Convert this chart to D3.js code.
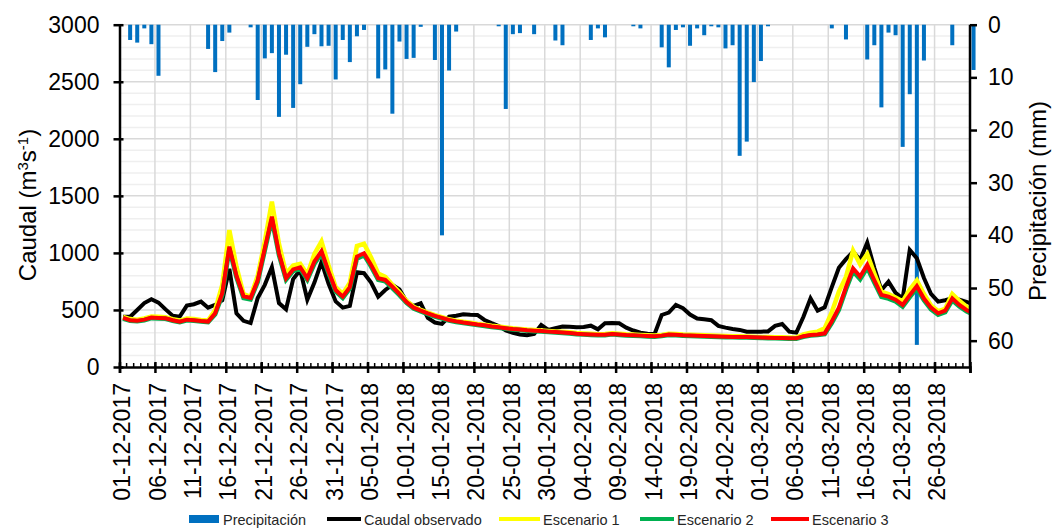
<!DOCTYPE html>
<html>
<head>
<meta charset="utf-8">
<script src="https://d3js.org/d3.v7.min.js"></script>
<style>
	body { margin: 0; background: #fff; }
	svg { display: block; font-family: "Liberation Sans", Arial, sans-serif; }
</style>
</head>
<body>
<svg id="svg" width="1053" height="529"></svg>
<script>

// Daily series, 01-12-2017 .. 31-03-2018 (121 days)
var startDate = new Date(2017, 11, 1),
	endDate = new Date(2018, 2, 31);

var dates = d3.timeDay.range(startDate, d3.timeDay.offset(endDate, 1));

// Precipitación (mm)
var precipitacion = [
	0, 2.9, 3.4, 0.7, 3.7, 9.7, 0, 0, 0, 0,
	0, 0, 4.6, 9.0, 3.1, 1.5, 0, 0, 0.5, 14.3,
	6.4, 5.4, 17.5, 5.7, 15.8, 11.3, 4.2, 1.8, 4.1, 4.0,
	10.4, 2.9, 7.1, 2.2, 1.0, 0, 10.2, 8.5, 16.9, 3.2,
	6.5, 6.3, 0.4, 0, 6.7, 40, 8.7, 1.3, 0, 0,
	0, 0, 0, 0.3, 16.0, 1.8, 1.6, 0, 1.8, 0,
	0, 3.0, 3.9, 0, 0, 0, 2.9, 0.7, 2.4, 0,
	0, 0, 0.3, 0.7, 0, 0, 4.3, 8.1, 1.0, 0.5,
	4.0, 0.7, 2.0, 0.3, 0.5, 4.5, 3.9, 24.9, 22.2, 10.9,
	6.9, 0.3, 0, 0, 0, 0, 0, 0, 0, 0,
	0.7, 0, 2.8, 0, 0, 6.6, 3.9, 15.7, 1.5, 2.0,
	23.2, 13.2, 60.8, 6.8, 0, 0, 0, 3.9, 0, 0,
	8.6
];

// Caudal observado (m3/s)
var caudalObservado = [
	441, 441, 500, 560, 594, 564, 505, 450, 441, 538,
	550, 573, 520, 545, 585, 860, 470, 405, 385, 605,
	720, 874, 560, 506, 770, 850, 590, 740, 920, 730,
	575, 520, 535, 830, 822, 740, 617, 675, 719, 680,
	573, 535, 558, 430, 390, 378, 441, 450, 462, 458,
	456, 412, 385, 360, 320, 300, 285, 278, 290, 368,
	325, 340, 354, 352, 348, 350, 362, 330, 383, 385,
	383, 345, 320, 301, 292, 290, 456, 477, 544, 515,
	460, 425, 418, 410, 360, 345, 333, 325, 310, 310,
	310, 312, 360, 377, 310, 301, 440, 602, 494, 524,
	700, 870, 945, 1011, 939, 1090, 870, 675, 748, 650,
	600, 1026, 953, 780, 640, 573, 585, 602, 590, 570,
	550
];

var escenario1 = [
	440, 420, 415, 425, 443, 440, 437, 420, 407, 425,
	420, 413, 408, 500, 720, 1200, 880, 640, 615, 800,
	1100, 1450, 1080, 820, 890, 905, 810, 990, 1100, 890,
	700, 640, 740, 1060, 1080, 960, 820, 790, 720, 655,
	580, 528, 500, 476, 454, 436, 418, 406, 396, 388,
	378, 371, 361, 354, 346, 339, 334, 328, 324, 321,
	316, 312, 308, 304, 298, 294, 291, 288, 289, 296,
	291, 286, 284, 281, 278, 276, 281, 291, 289, 284,
	282, 280, 278, 276, 273, 271, 270, 269, 268, 266,
	264, 262, 261, 260, 258, 257, 285, 300, 310, 340,
	480, 660, 790, 1020, 900, 990, 820, 660, 640, 610,
	575, 680, 760, 640, 540, 490, 510, 640, 580, 530,
	490
];

var escenario2 = [
	425, 405, 400, 410, 428, 425, 422, 405, 392, 410,
	405, 398, 393, 462, 630, 1035, 785, 605, 592, 745,
	1020, 1295, 980, 765, 840, 860, 765, 905, 995, 822,
	662, 605, 688, 950, 980, 880, 765, 750, 692, 630,
	562, 512, 487, 464, 442, 425, 407, 395, 385, 377,
	367, 360, 350, 343, 336, 329, 324, 318, 314, 311,
	306, 302, 298, 294, 288, 284, 281, 278, 279, 286,
	281, 276, 274, 271, 268, 266, 271, 281, 279, 274,
	272, 270, 268, 266, 263, 261, 260, 259, 258, 256,
	254, 252, 251, 250, 248, 247, 265, 276, 280, 288,
	385, 500, 680, 840, 770, 870, 740, 615, 600, 575,
	530, 612, 690, 585, 505, 458, 480, 585, 530, 488,
	458
];

var escenario3 = [
	430, 410, 405, 415, 433, 430, 427, 410, 397, 415,
	410, 403, 398, 471, 646, 1055, 800, 620, 605, 760,
	1040, 1318, 997, 778, 855, 874, 778, 924, 1015, 836,
	675, 617, 700, 968, 997, 895, 778, 763, 704, 640,
	570, 520, 494, 470, 448, 430, 412, 400, 390, 382,
	372, 365, 355, 348, 340, 333, 328, 322, 318, 315,
	310, 306, 302, 298, 292, 288, 285, 282, 283, 290,
	285, 280, 278, 275, 272, 270, 275, 285, 283, 278,
	276, 274, 272, 270, 267, 265, 264, 263, 262, 260,
	258, 256, 255, 254, 252, 251, 270, 281, 285, 295,
	400, 520, 700, 865, 792, 895, 760, 632, 617, 590,
	544, 630, 710, 600, 520, 471, 494, 602, 544, 500,
	470
];

var caudalTicks = [0, 500, 1000, 1500, 2000, 2500, 3000];
var precipTicks = [0, 10, 20, 30, 40, 50, 60];

var series = [
	{ name: "Caudal observado", values: caudalObservado, color: "#000000", width: 4 },
	{ name: "Escenario 1", values: escenario1, color: "#FFFF00", width: 4.5 },
	{ name: "Escenario 2", values: escenario2, color: "#00B050", width: 4.5 },
	{ name: "Escenario 3", values: escenario3, color: "#FF0000", width: 4 }
];

var margin = { left: 119.5, right: 970, top: 24.7, bottom: 367 };

var svg = d3.select("#svg");

var x = d3.scaleTime()
	.domain([startDate, endDate])
	.range([margin.left, margin.right]);

var dayWidth = (margin.right - margin.left) / 120;

// points sit in the middle of each day
var xMid = function(d){ return x(d) + dayWidth / 2; };

var y = d3.scaleLinear().domain([0, 3000]).range([margin.bottom, margin.top]);
var yP = d3.scaleLinear().domain([0, 65]).range([margin.top, margin.bottom]);

svg.append("clipPath").attr("id", "plot-clip")
	.append("rect")
	.attr("x", margin.left).attr("y", margin.top - 2)
	.attr("width", margin.right - margin.left).attr("height", margin.bottom - margin.top + 4);

// grid
var grid = svg.append("g");
grid.selectAll("line.minor")
	.data(d3.range(100, 3001, 100).filter(function(v){ return v % 500 !== 0; }))
	.enter().append("line")
	.attr("x1", margin.left).attr("x2", margin.right)
	.attr("y1", y).attr("y2", y)
	.style("stroke", "#efefef").style("stroke-width", "1.5px");

grid.selectAll("line.major")
	.data(caudalTicks.slice(1))
	.enter().append("line")
	.attr("x1", margin.left).attr("x2", margin.right)
	.attr("y1", y).attr("y2", y)
	.style("stroke", "#d9d9d9").style("stroke-width", "1.5px");

var tickDates = dates.filter(function(d, i){ return i % 5 === 0; });
var labelFormat = d3.timeFormat("%d-%m-%Y");

grid.selectAll("line.vert")
	.data(tickDates.slice(1))
	.enter().append("line")
	.attr("x1", x).attr("x2", x)
	.attr("y1", margin.top).attr("y2", margin.bottom)
	.style("stroke", "#d9d9d9").style("stroke-width", "1.5px");

// precipitation bars hang from the top
svg.append("g")
	.selectAll("rect")
	.data(dates)
	.enter().append("rect")
	.attr("x", function(d){ return xMid(d) - 2; })
	.attr("y", yP(0))
	.attr("width", 4)
	.attr("height", function(d, i){ return yP(precipitacion[i]) - yP(0); })
	.style("fill", "#0070C0");

// flow lines
var line = d3.line()
	.x(function(d){ return xMid(d.date); })
	.y(function(d){ return y(d.value); });

svg.append("g").attr("clip-path", "url(#plot-clip)")
	.selectAll("path")
	.data(series)
	.enter().append("path")
	.attr("d", function(s){
		return line(dates.map(function(d, i){ return { date: d, value: s.values[i] }; }));
	})
	.style("fill", "none")
	.style("stroke", function(s){ return s.color; })
	.style("stroke-width", function(s){ return s.width + "px"; })
	.style("stroke-linejoin", "miter");

// axes
var axisColor = "#000";

var leftAxis = svg.append("g")
	.attr("transform", "translate(" + margin.left + ",0)")
	.call(d3.axisLeft(y).tickValues(caudalTicks).tickFormat(d3.format("d"))
		.tickSizeInner(6).tickSizeOuter(0).tickPadding(14));
leftAxis.selectAll(".tick line").attr("x2", -6).attr("x1", 4);

var rightAxis = svg.append("g")
	.attr("transform", "translate(" + margin.right + ",0)")
	.call(d3.axisRight(yP).tickValues(precipTicks).tickSizeInner(7).tickSizeOuter(0).tickPadding(11));
rightAxis.select(".domain").attr("d", "M0," + margin.top + "V" + margin.bottom);

// last day (31-03) gets a tick but no label
var bottomAxis = svg.append("g")
	.attr("transform", "translate(0," + margin.bottom + ")")
	.call(d3.axisBottom(x).tickValues(tickDates).tickSizeOuter(0).tickSize(6)
		.tickFormat(function(d, i){ return i < tickDates.length - 1 ? labelFormat(d) : ""; }));
bottomAxis.selectAll(".tick line").attr("y1", -5).attr("y2", 6);
bottomAxis.selectAll(".tick text")
	.attr("transform", "rotate(-90)")
	.attr("text-anchor", "end")
	.attr("x", -16)
	.attr("y", 2)
	.attr("dy", "0.35em");

// daily minor ticks
bottomAxis.append("g")
	.selectAll("line")
	.data(dates)
	.enter().append("line")
	.attr("x1", x).attr("x2", x)
	.attr("y1", -4).attr("y2", 0)
	.style("stroke", axisColor).style("stroke-width", "1.5px");

[leftAxis, rightAxis, bottomAxis].forEach(function(g){
	g.selectAll(".domain").style("stroke", axisColor).style("stroke-width", "2.5px");
	g.selectAll(".tick line").style("stroke", axisColor).style("stroke-width", "2.5px");
	g.selectAll(".tick text")
		.style("font-family", "'Liberation Sans', Arial, sans-serif")
		.style("font-size", "23px")
		.style("fill", "#000");
});

// axis titles
var leftTitle = svg.append("text")
	.attr("transform", "translate(36,205) rotate(-90)")
	.attr("text-anchor", "middle")
	.style("font-size", "24px");
leftTitle.append("tspan").text("Caudal (m");
leftTitle.append("tspan").attr("baseline-shift", "super").style("font-size", "15px").text("3");
leftTitle.append("tspan").text("s");
leftTitle.append("tspan").attr("baseline-shift", "super").style("font-size", "15px").text("-1");
leftTitle.append("tspan").text(")");

svg.append("text")
	.attr("transform", "translate(1046,201) rotate(-90)")
	.attr("text-anchor", "middle")
	.style("font-size", "24px")
	.text("Precipitación (mm)");

// legend
var legendItems = [
	{ name: "Precipitación", color: "#0070C0", kind: "bar", x1: 189, x2: 219, tx: 223 },
	{ name: "Caudal observado", color: "#000000", kind: "line", x1: 327, x2: 361, tx: 364 },
	{ name: "Escenario 1", color: "#FFFF00", kind: "line", x1: 499, x2: 540, tx: 543 },
	{ name: "Escenario 2", color: "#00B050", kind: "line", x1: 640, x2: 674, tx: 677 },
	{ name: "Escenario 3", color: "#FF0000", kind: "line", x1: 771, x2: 809, tx: 812 }
];

var legend = svg.append("g");
legendItems.forEach(function(item){
	if (item.kind === "bar"){
		legend.append("rect")
			.attr("x", item.x1).attr("y", 515)
			.attr("width", item.x2 - item.x1).attr("height", 8)
			.style("fill", item.color);
	} else {
		legend.append("line")
			.attr("x1", item.x1).attr("x2", item.x2)
			.attr("y1", 519).attr("y2", 519)
			.style("stroke", item.color).style("stroke-width", "4px");
	}
	legend.append("text")
		.attr("x", item.tx).attr("y", 524.5)
		.style("font-size", "14.5px")
		.style("fill", "#262626")
		.text(item.name);
});

</script>
</body>
</html>
